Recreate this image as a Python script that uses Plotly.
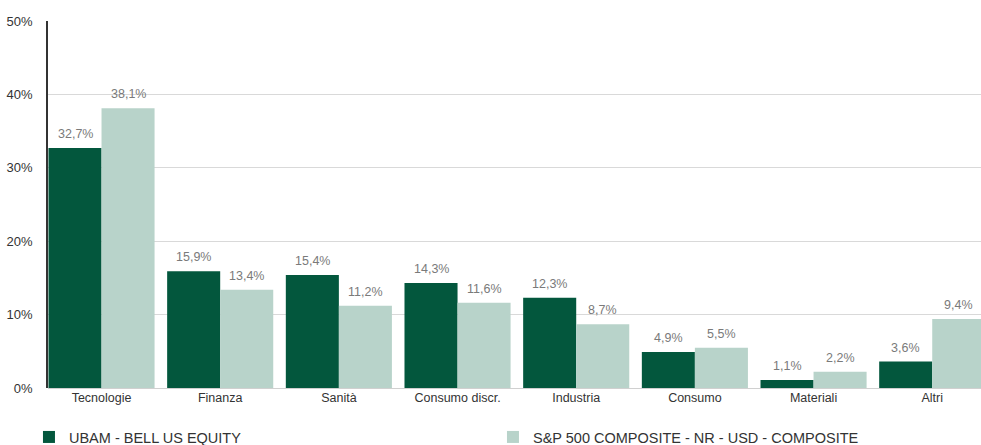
import plotly.graph_objects as go

categories = ["Tecnologie", "Finanza", "Sanità", "Consumo discr.", "Industria", "Consumo", "Materiali", "Altri"]
fund_name = "UBAM - BELL US EQUITY"
bench_name = "S&P 500 COMPOSITE - NR - USD - COMPOSITE"
fund_values = [32.7, 15.9, 15.4, 14.3, 12.3, 4.9, 1.1, 3.6]
bench_values = [38.1, 13.4, 11.2, 11.6, 8.7, 5.5, 2.2, 9.4]
y_ticks = [0, 10, 20, 30, 40, 50]
y_tick_labels = ["0%", "10%", "20%", "30%", "40%", "50%"]

DARK = "#03573D"
LIGHT = "#B8D3CA"
FONT = "Liberation Sans"

fig = go.Figure()
fig.add_trace(go.Bar(x=categories, y=fund_values, name=fund_name, marker=dict(color=DARK, line=dict(width=0))))
fig.add_trace(go.Bar(x=categories, y=bench_values, name=bench_name, marker=dict(color=LIGHT, line=dict(width=0))))

annotations = []
for vals, shift in ((fund_values, -26.5), (bench_values, 26.5)):
    for c, v in zip(categories, vals):
        annotations.append(dict(
            x=c, y=v, xref="x", yref="y", text=f"{v:.1f}%".replace(".", ","),
            showarrow=False, xshift=shift, yshift=5, yanchor="bottom",
            font=dict(family=FONT, size=12.5, color="#7a7a7a")))

fig.update_layout(
    width=981, height=445,
    margin=dict(l=48, r=0, t=21, b=57, autoexpand=False),
    paper_bgcolor="white", plot_bgcolor="white",
    bargap=0.106, bargroupgap=0, barmode="group",
    font=dict(family=FONT, color="#333333"),
    annotations=annotations,
    legend=dict(orientation="h", x=-0.0204, xanchor="left", y=-0.09, yanchor="top",
                font=dict(family=FONT, size=14.5, color="#333333"),
                entrywidth=419, entrywidthmode="pixels", itemwidth=30,
                bgcolor="rgba(0,0,0,0)"),
    xaxis=dict(range=[-0.451, 7.411], showgrid=False, showline=False, zeroline=False,
               automargin=False,
               tickfont=dict(family=FONT, size=12.5, color="#333333"), ticks=""),
    yaxis=dict(range=[0, 50], tickvals=y_ticks, ticktext=y_tick_labels,
               automargin=False,
               showgrid=True, gridcolor="#d9d9d9", gridwidth=1.2,
               zeroline=True, zerolinecolor="#d0d0d0", zerolinewidth=1.2,
               showline=True, linecolor="#333333", linewidth=1.5,
               ticks="", ticklabelstandoff=11,
               tickfont=dict(family=FONT, size=13, color="#333333")),
)

fig.write_html("out.html", config={"displayModeBar": False},
               post_script="document.body.style.margin='0';document.body.style.overflow='hidden';")
